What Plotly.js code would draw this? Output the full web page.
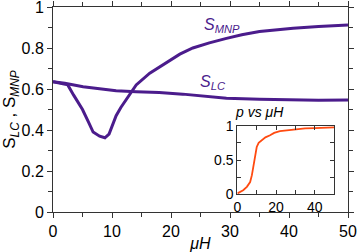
<!DOCTYPE html>
<html>
<head>
<script src="https://cdn.plot.ly/plotly-3.0.1.min.js"></script>
<style>html,body{margin:0;padding:0;background:#fff;}#chart{width:357px;height:252px;}</style>
</head>
<body>
<div id="chart"></div>
<script>
const muH_MNP = [0, 1, 2, 2.5, 3.5, 5, 6, 6.8, 7.9, 8.8, 9.5, 10.7, 11.5, 12.7, 14.1, 16.4, 18.1, 19.5, 21.5, 23.7, 26.5, 29.4, 32, 35, 38, 40.7, 45, 50];
const S_MNP = [0.636, 0.63, 0.625, 0.62, 0.57, 0.50, 0.44, 0.39, 0.37, 0.362, 0.38, 0.47, 0.51, 0.56, 0.62, 0.677, 0.709, 0.733, 0.77, 0.80, 0.825, 0.847, 0.865, 0.88, 0.89, 0.896, 0.905, 0.912];
const muH_LC = [0, 2, 5.1, 8, 10.7, 14.1, 18, 22, 26, 29.4, 35, 40.6, 45, 50];
const S_LC = [0.636, 0.628, 0.611, 0.60, 0.592, 0.587, 0.583, 0.575, 0.565, 0.555, 0.55, 0.546, 0.545, 0.546];
const muH_p = [0, 1, 3, 4.9, 6.6, 7.5, 8.3, 9.2, 10, 11, 12.6, 14.5, 16.9, 19, 22, 26, 30.7, 35, 40, 45, 50];
const p = [0.015, 0.03, 0.06, 0.11, 0.18, 0.28, 0.43, 0.6, 0.69, 0.75, 0.79, 0.83, 0.86, 0.895, 0.92, 0.935, 0.95, 0.96, 0.965, 0.97, 0.975];

const mainYTicks = [0, 0.2, 0.4, 0.6, 0.8, 1];
const mainYTickText = ['0', '0.2', '0.4', '0.6', '0.8', '1'];
const insetYTicks = [0, 0.5, 1];
const insetYTickText = ['0', '0.5', '1'];

const purple = '#4b1c8c';
const data = [
  {x: muH_MNP, y: S_MNP, type: 'scatter', mode: 'lines', line: {color: purple, width: 3}, xaxis: 'x', yaxis: 'y'},
  {x: muH_LC, y: S_LC, type: 'scatter', mode: 'lines', line: {color: purple, width: 3}, xaxis: 'x', yaxis: 'y'},
  {x: muH_p, y: p, type: 'scatter', mode: 'lines', line: {color: '#ff4a10', width: 1.8}, xaxis: 'x2', yaxis: 'y2'}
];
const font = {family: 'Liberation Sans, Arial, sans-serif', size: 16, color: '#000'};
const layout = {
  width: 357, height: 252,
  margin: {l: 53, r: 9, t: 7, b: 40},
  showlegend: false,
  paper_bgcolor: '#fff', plot_bgcolor: 'rgba(0,0,0,0)',
  font: font,
  xaxis: {
    range: [0, 50], dtick: 10, tick0: 0, showgrid: false, zeroline: false,
    showline: true, linecolor: '#333', linewidth: 1, mirror: 'allticks',
    ticks: 'outside', ticklen: 5, tickcolor: '#333', ticklabeloverflow: 'allow',
    minor: {dtick: 5, ticks: 'outside', ticklen: 4, tickcolor: '#333'},
    title: {text: '<i>μH</i>', font: {size: 16}, standoff: 2}
  },
  yaxis: {
    range: [0, 1], tickmode: 'array', tickvals: mainYTicks, ticktext: mainYTickText,
    showgrid: false, zeroline: false, ticklabeloverflow: 'allow',
    showline: true, linecolor: '#333', linewidth: 1, mirror: 'allticks',
    ticks: 'outside', ticklen: 5, tickcolor: '#333',
    minor: {dtick: 0.1, tick0: 0, ticks: 'outside', ticklen: 4, tickcolor: '#333'},
    title: {text: 'S<sub><i>LC</i></sub> , S<sub><i>MNP</i></sub>', font: {size: 17}, standoff: 2}
  },
  xaxis2: {
    domain: [0.625, 0.953], anchor: 'y2', range: [0, 50], dtick: 20, tick0: 0,
    showgrid: false, zeroline: false, showline: true, linecolor: '#333', mirror: 'allticks',
    ticks: 'inside', ticklen: 4, tickcolor: '#333',
    minor: {dtick: 10, ticks: 'inside', ticklen: 4, tickcolor: '#333'},
    tickfont: {size: 14}
  },
  yaxis2: {
    domain: [0.086, 0.421], anchor: 'x2', range: [0, 1], tickmode: 'array', tickvals: insetYTicks, ticktext: insetYTickText,
    showgrid: false, zeroline: false, showline: true, linecolor: '#333', mirror: 'allticks',
    ticks: 'inside', ticklen: 4, tickcolor: '#333',
    minor: {dtick: 0.25, tick0: 0, ticks: 'inside', ticklen: 4, tickcolor: '#333'},
    tickfont: {size: 14}
  },
  annotations: [
    {x: 28.7, y: 0.91, xref: 'x', yref: 'y', text: '<i>S<sub>MNP</sub></i>', showarrow: false, font: {size: 16, color: purple}},
    {x: 27.2, y: 0.63, xref: 'x', yref: 'y', text: '<i>S<sub>LC</sub></i>', showarrow: false, font: {size: 16, color: purple}},
    {x: 0.79, y: 0.49, xref: 'paper', yref: 'paper', text: '<i>p vs μH</i>', showarrow: false, font: {size: 14, color: '#000'}}
  ]
};
Plotly.newPlot('chart', data, layout, {displayModeBar: false, staticPlot: true});
</script>
</body>
</html>
